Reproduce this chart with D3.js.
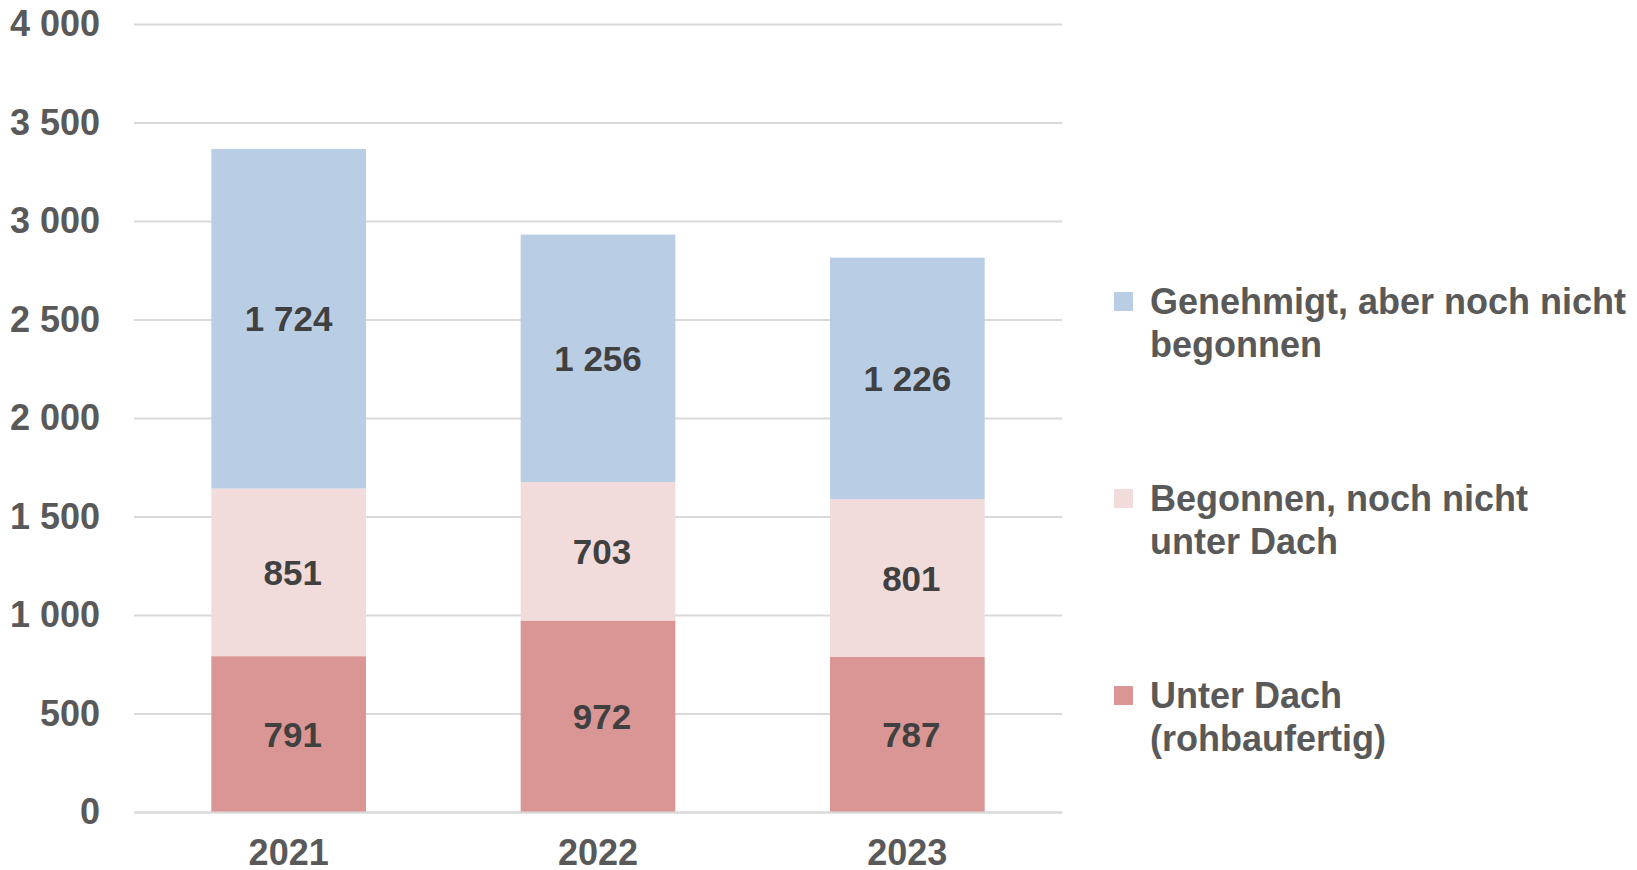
<!DOCTYPE html>
<html>
<head>
<meta charset="utf-8">
<script src="https://cdn.jsdelivr.net/npm/d3@7"></script>
<style>
  body { margin:0; background:#fff; }
  svg text { font-family: "Liberation Sans", Arial, sans-serif; font-weight:bold; }
</style>
</head>
<body>
<div class="chart_bar"></div>
<script>
var years = ["2021", "2022", "2023"];
var unterDach = [791, 972, 787];
var begonnen = [851, 703, 801];
var genehmigt = [1724, 1256, 1226];
var legendLines = [["Genehmigt, aber noch nicht", "begonnen"], ["Begonnen, noch nicht", "unter Dach"], ["Unter Dach", "(rohbaufertig)"]];
var colors = ["#D99694", "#F2DCDB", "#B9CDE5"];
var yTicks = [0, 500, 1000, 1500, 2000, 2500, 3000, 3500, 4000];

var margin = {top:24, right:575, bottom:58, left:134}
  , width = 1637 - margin.left - margin.right
  , height = 870 - margin.top - margin.bottom;

var locale = d3.formatLocale({decimal:",", thousands:" ", grouping:[3], currency:["", ""]});
var fmt = locale.format(",d");

var dataset = years.map(function(y, i){
  return {year:y, s0:unterDach[i], s1:begonnen[i], s2:genehmigt[i]};
});
var layers = d3.stack().keys(["s0","s1","s2"])(dataset);

var xScale = d3.scaleBand()
  .domain(years)
  .range([0, width])
  .paddingInner(0.5)
  .paddingOuter(0.25);
var yScale = d3.scaleLinear()
  .domain([0, 4000])
  .range([height, 0]);

var svg = d3.select(".chart_bar").append("svg")
  .attr("width", 1637)
  .attr("height", 870)
  .append("g")
  .attr("transform", "translate(" + margin.left + "," + margin.top + ")");

// y axis + gridlines
var yAxis = svg.append("g")
  .attr("class", "y axis")
  .call(d3.axisLeft(yScale).tickValues(yTicks).tickSize(-width).tickPadding(34).tickFormat(fmt));
yAxis.select(".domain").remove();
yAxis.selectAll("line").attr("stroke", "#D9D9D9").attr("stroke-width", 2);
yAxis.selectAll("text").attr("fill", "#595959").style("font-size", "36px");

// bars
var layer = svg.selectAll(".layer")
  .data(layers)
  .enter().append("g")
  .attr("class", "layer")
  .attr("fill", function(d, i){ return colors[i]; });

layer.selectAll("rect")
  .data(function(d){ return d; })
  .enter().append("rect")
  .attr("x", function(d){ return xScale(d.data.year); })
  .attr("y", function(d){ return yScale(d[1]); })
  .attr("width", xScale.bandwidth())
  .attr("height", function(d){ return yScale(d[0]) - yScale(d[1]); });

layer.selectAll(".lbl")
  .data(function(d){ return d; })
  .enter().append("text")
  .attr("class", "lbl")
  .attr("x", function(d){ return xScale(d.data.year) + xScale.bandwidth()/2; })
  .attr("y", function(d){ return (yScale(d[0]) + yScale(d[1]))/2; })
  .attr("dx", function(d){ return (d[1] - d[0]) < 1000 ? 4 : 0; })
  .attr("dy", "0.36em")
  .attr("text-anchor", "middle")
  .attr("fill", "#404040")
  .style("font-size", "35px")
  .text(function(d){ return fmt(d[1] - d[0]); });

// x axis
var xAxis = svg.append("g")
  .attr("class", "x axis")
  .attr("transform", "translate(0," + height + ")")
  .call(d3.axisBottom(xScale).tickSize(0).tickPadding(27));
xAxis.select(".domain").attr("stroke", "#D9D9D9").attr("stroke-width", 2);
xAxis.selectAll("text").attr("fill", "#595959").style("font-size", "36px");

// legend
var legend = svg.append("g")
  .attr("transform", "translate(" + (width + 52) + ",0)");
var item = legend.selectAll(".item")
  .data(legendLines)
  .enter().append("g")
  .attr("class", "item")
  .attr("transform", function(d, i){ return "translate(0," + (278 + i*197) + ")"; });
item.append("rect")
  .attr("x", 0).attr("y", -10)
  .attr("width", 19).attr("height", 19)
  .attr("fill", function(d, i){ return colors[2 - i]; });
item.each(function(d){
  var t = d3.select(this).append("text")
    .attr("x", 36)
    .attr("y", 12)
    .attr("fill", "#595959")
    .style("font-size", "36px");
  d.forEach(function(line, j){
    t.append("tspan").attr("x", 36).attr("dy", j === 0 ? 0 : 43).text(line);
  });
});
</script>
</body>
</html>
